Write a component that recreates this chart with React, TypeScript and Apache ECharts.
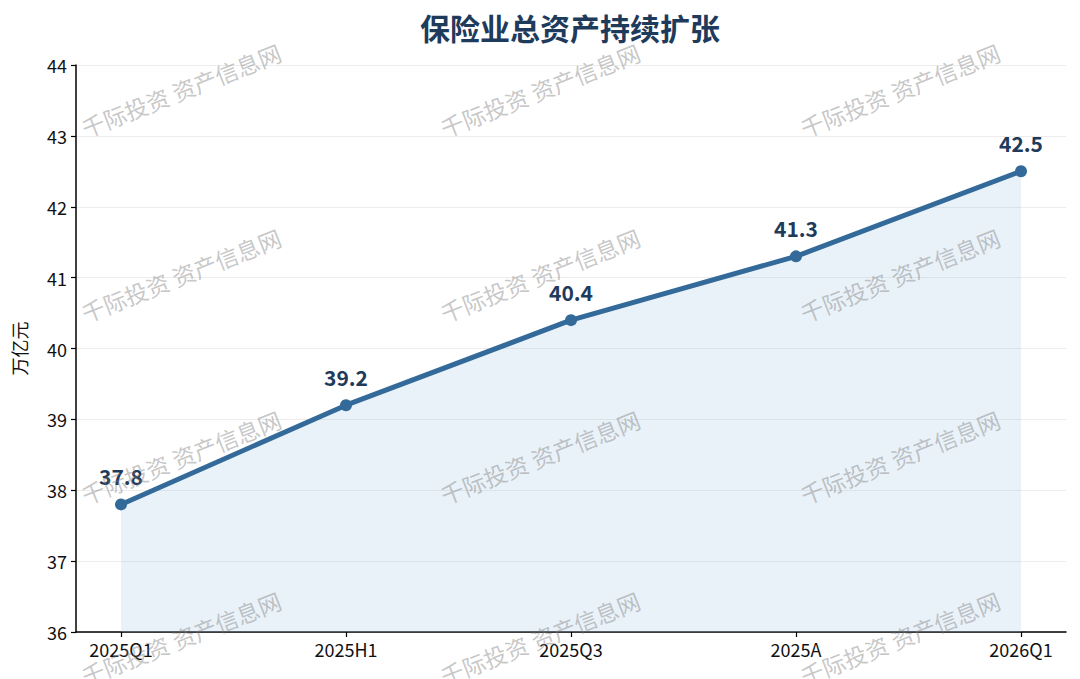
import React, { useEffect, useRef } from "react";
import * as echarts from "echarts";

const categories = ["2025Q1", "2025H1", "2025Q3", "2025A", "2026Q1"];
const values = [37.8, 39.2, 40.4, 41.3, 42.5];
const yTicks = [36, 37, 38, 39, 40, 41, 42, 43, 44];
const titleText = "保险业总资产持续扩张";
const yAxisName = "万亿元";
const watermarkText = "千际投资 资产信息网";
const watermarkCols = [181, 540, 900];
const watermarkRows = [90, 275, 457, 638];

const FONT = "'Noto Sans CJK SC', 'Noto Sans', sans-serif";

export default function App() {
  const ref = useRef<HTMLDivElement>(null);
  useEffect(() => {
    document.body.style.margin = "0";
    if (!ref.current) return;
    const chart = echarts.init(ref.current, null, { renderer: "svg" });
    const marks: any[] = [];
    watermarkRows.forEach((y) =>
      watermarkCols.forEach((x) => {
        marks.push({
          type: "text",
          x,
          y,
          rotation: (21.5 * Math.PI) / 180,
          z: 100,
          silent: true,
          style: {
            text: watermarkText,
            fontFamily: FONT,
            fontSize: 23,
            fill: "rgba(120,120,120,0.42)",
            textAlign: "center",
            textVerticalAlign: "middle",
          },
        });
      })
    );
    marks.push({
      type: "text",
      x: 570,
      y: 27,
      z: 50,
      style: {
        text: titleText,
        fontFamily: FONT,
        fontSize: 30,
        fontWeight: "bold",
        fill: "#1f3b5c",
        textAlign: "center",
        textVerticalAlign: "middle",
      },
    });
    chart.setOption({
      animation: false,
      backgroundColor: "#ffffff",
      grid: { left: 76, right: 14, top: 65, bottom: 47, containLabel: false },
      xAxis: {
        type: "value",
        min: -0.2,
        max: 4.2,
        axisLine: { show: true, onZero: false, lineStyle: { color: "#000", width: 1.5 } },
        axisTick: {
          show: true,
          length: 5,
          lineStyle: { color: "#000", width: 1.2 },
          customValues: categories.map((_, i) => i),
        },
        axisLabel: {
          color: "#111",
          fontSize: 18,
          fontFamily: FONT,
          margin: 8,
          customValues: categories.map((_, i) => i),
          formatter: (v: number) => categories[Math.round(v)] ?? "",
        },
        splitLine: { show: false },
      },
      yAxis: {
        type: "value",
        min: yTicks[0],
        max: yTicks[yTicks.length - 1],
        interval: 1,
        name: yAxisName,
        nameLocation: "middle",
        nameGap: 48,
        nameRotate: 90,
        nameTextStyle: { color: "#111", fontSize: 18, fontFamily: FONT },
        axisLine: { show: true, onZero: false, lineStyle: { color: "#000", width: 1.5 } },
        axisTick: { show: true, length: 5, lineStyle: { color: "#000", width: 1.2 } },
        axisLabel: { color: "#111", fontSize: 18, fontFamily: FONT, margin: 9 },
        splitLine: { show: true, lineStyle: { color: "#ececec", width: 1 } },
      },
      series: [
        {
          type: "line",
          data: values.map((v, i) => [i, v]),
          symbol: "circle",
          symbolSize: 12,
          lineStyle: { color: "#336a99", width: 5 },
          itemStyle: { color: "#336a99" },
          areaStyle: { color: "rgba(165,200,228,0.33)", origin: "start" },
          label: {
            show: true,
            position: "top",
            distance: 12,
            color: "#1f3b5c",
            fontSize: 21,
            fontWeight: "bold",
            fontFamily: FONT,
          },
          z: 10,
        },
      ],
      graphic: marks,
    });
    return () => chart.dispose();
  }, []);
  return <div ref={ref} style={{ width: 1080, height: 679 }} />;
}
